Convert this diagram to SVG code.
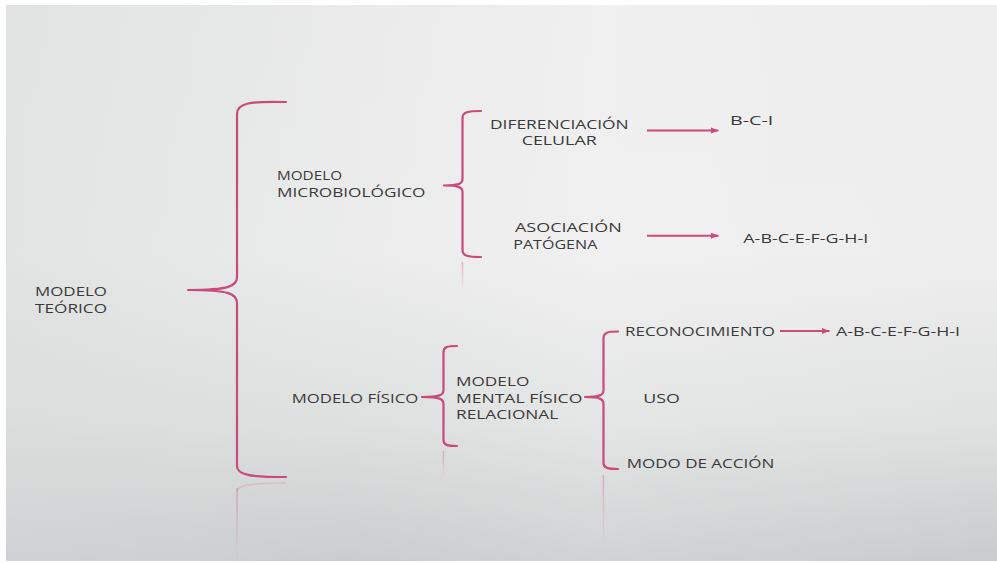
<svg xmlns="http://www.w3.org/2000/svg" width="997" height="563" viewBox="0 0 997 563">
  <defs>
    <linearGradient id="bgV" x1="0" y1="0" x2="0" y2="1">
      <stop offset="0" stop-color="#ecedec"/>
      <stop offset="0.45" stop-color="#eeeeee"/>
      <stop offset="0.75" stop-color="#e0e1e1"/>
      <stop offset="1" stop-color="#c9cbcc"/>
    </linearGradient>
    <linearGradient id="bgH" x1="0" y1="0" x2="1" y2="0">
      <stop offset="0" stop-color="#d6dad9" stop-opacity="0.5"/>
      <stop offset="0.35" stop-color="#d6dad9" stop-opacity="0.12"/>
      <stop offset="0.6" stop-color="#ffffff" stop-opacity="0.15"/>
      <stop offset="1" stop-color="#ffffff" stop-opacity="0"/>
    </linearGradient>
    <linearGradient id="fade" x1="0" y1="0" x2="0" y2="1">
      <stop offset="0" stop-color="#d46a92" stop-opacity="0.45"/>
      <stop offset="1" stop-color="#d46a92" stop-opacity="0"/>
    </linearGradient>
    <marker id="arrow" viewBox="0 0 10 8" refX="10" refY="4" markerWidth="8" markerHeight="6.4" markerUnits="userSpaceOnUse" orient="auto">
      <path d="M0,0 L10,4 L0,8 Z" fill="#c94a7b"/>
    </marker>
  </defs>
  <style>
    .brace { fill: none; stroke: #c94a7b; stroke-width: 2.2; stroke-linecap: round; stroke-linejoin: round; }
    .arrow { fill: none; stroke: #c94a7b; stroke-width: 2; marker-end: url(#arrow); }
    .refl  { fill: url(#fade); }
    .refl-hook { fill: none; stroke: #d46a92; stroke-opacity: 0.22; stroke-width: 1.6; }
    text { font-family: "Open Sans", Lato, "Liberation Sans", sans-serif; fill: #3a3a3a; font-size: 13px; }
  </style>

  <!-- page background with white margins -->
  <rect x="0" y="0" width="997" height="563" fill="#ffffff"/>
  <rect x="6" y="5" width="991" height="556" fill="url(#bgV)"/>
  <rect x="6" y="5" width="991" height="556" fill="url(#bgH)"/>

  <!-- soft reflections under the braces -->
  <g id="reflections">
    <path class="refl-hook" d="M286,483 C252,483 237,485 237,492"/>
    <rect class="refl" x="236.2" y="488" width="1.6" height="73"/>
    <rect class="refl" x="461.7" y="262" width="1.5" height="28"/>
    <rect class="refl" x="442.7" y="451" width="1.5" height="30"/>
    <rect class="refl" x="602.7" y="475" width="1.5" height="70"/>
  </g>

  <!-- braces and arrows -->
  <g id="connectors">
    <path class="brace" d="M286,102 C250,101 237,103 237,114 L237,277 C237,286 230,290 188,290 C230,290 237,294 237,303 L237,466 C237,475 250,477 286,477"/>
    <path class="brace" d="M481,111 C468,111 462.5,112 462.5,118 L462.5,179 C462.5,184 458,185.5 444,185.5 C458,185.5 462.5,187 462.5,192 L462.5,250 C462.5,256 468,257 481,257"/>
    <path class="brace" d="M457,346 C447,346 443.5,347 443.5,352 L443.5,390 C443.5,395 440,397 422,397 C440,397 443.5,399 443.5,404 L443.5,440 C443.5,445 447,446 457,446"/>
    <path class="brace" d="M618,331.5 C608,331.5 603.5,332.5 603.5,338 L603.5,390 C603.5,395 600,397 585,397 C600,397 603.5,399 603.5,404 L603.5,463 C603.5,468 608,469 618,469"/>
    <line class="arrow" x1="647" y1="130.5" x2="718.5" y2="130.5"/>
    <line class="arrow" x1="647" y1="235.7" x2="718.5" y2="235.7"/>
    <line class="arrow" x1="780" y1="331" x2="829.5" y2="331"/>
  </g>

  <g id="modelo-teorico">
    <text x="35" y="295.5" textLength="72" lengthAdjust="spacingAndGlyphs">MODELO</text>
    <text x="35" y="312.5" textLength="72" lengthAdjust="spacingAndGlyphs">TEÓRICO</text>
  </g>
  <g id="modelo-microbiologico">
    <text x="277" y="179.5" font-size="12.5" textLength="65" lengthAdjust="spacingAndGlyphs">MODELO</text>
    <text x="277" y="196.5" font-size="12.5" textLength="148.5" lengthAdjust="spacingAndGlyphs">MICROBIOLÓGICO</text>
  </g>
  <g id="diferenciacion-celular">
    <text x="490" y="128.5" font-size="12.5" textLength="138.7" lengthAdjust="spacingAndGlyphs">DIFERENCIACIÓN</text>
    <text x="521.7" y="145" font-size="12.5" textLength="75" lengthAdjust="spacingAndGlyphs">CELULAR</text>
  </g>
  <g id="bci">
    <text x="730" y="125" font-size="12" textLength="43.3" lengthAdjust="spacingAndGlyphs">B-C-I</text>
  </g>
  <g id="asociacion-patogena">
    <text x="515" y="231.5" font-size="12.5" textLength="106.7" lengthAdjust="spacingAndGlyphs">ASOCIACIÓN</text>
    <text x="513.3" y="248.5" font-size="12.5" textLength="84" lengthAdjust="spacingAndGlyphs">PATÓGENA</text>
  </g>
  <g id="letras-asociacion">
    <text x="743.3" y="243.3" font-size="12" textLength="125" lengthAdjust="spacingAndGlyphs">A-B-C-E-F-G-H-I</text>
  </g>
  <g id="modelo-fisico">
    <text x="291.7" y="402.5" font-size="13.5" textLength="126.6" lengthAdjust="spacingAndGlyphs">MODELO FÍSICO</text>
  </g>
  <g id="modelo-mental">
    <text x="456" y="385.5" font-size="13.5" textLength="73.3" lengthAdjust="spacingAndGlyphs">MODELO</text>
    <text x="456" y="402.5" font-size="13.5" textLength="126.3" lengthAdjust="spacingAndGlyphs">MENTAL FÍSICO</text>
    <text x="456" y="419.3" font-size="13.5" textLength="102.3" lengthAdjust="spacingAndGlyphs">RELACIONAL</text>
  </g>
  <g id="reconocimiento">
    <text x="625" y="335.5" font-size="13" textLength="150" lengthAdjust="spacingAndGlyphs">RECONOCIMIENTO</text>
  </g>
  <g id="letras-reconocimiento">
    <text x="836" y="335.5" font-size="13" textLength="124" lengthAdjust="spacingAndGlyphs">A-B-C-E-F-G-H-I</text>
  </g>
  <g id="uso">
    <text x="643.3" y="403.3" font-size="13.5" textLength="36.7" lengthAdjust="spacingAndGlyphs">USO</text>
  </g>
  <g id="modo-de-accion">
    <text x="626.7" y="468.3" font-size="13.5" textLength="147.6" lengthAdjust="spacingAndGlyphs">MODO DE ACCIÓN</text>
  </g>
</svg>
